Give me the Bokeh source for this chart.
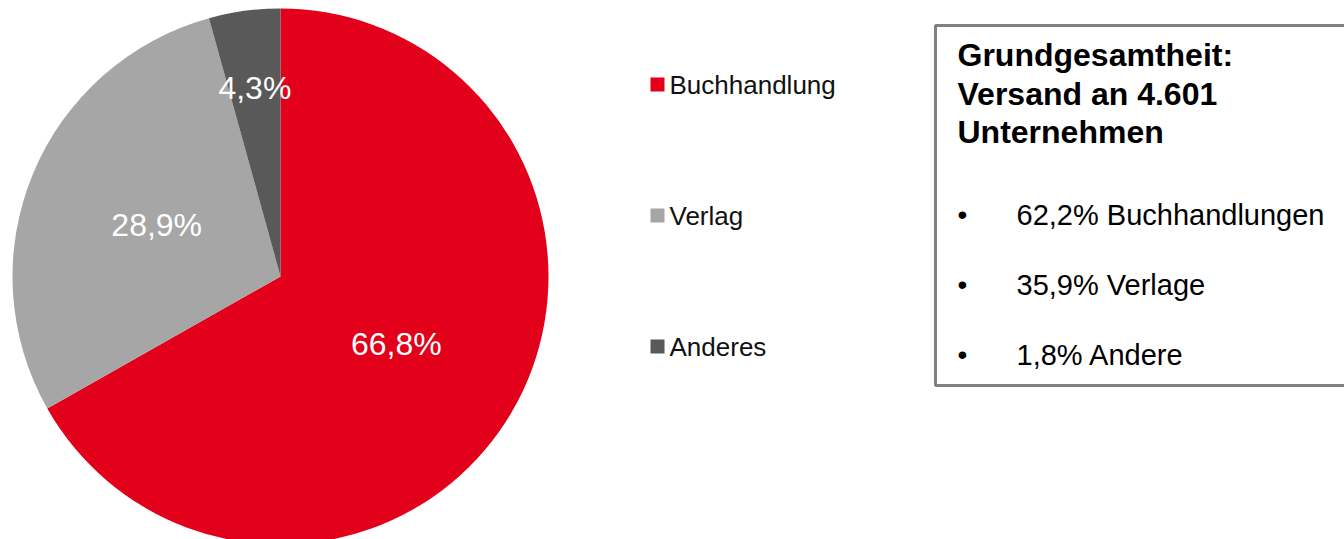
import math
from bokeh.plotting import figure
from bokeh.models import Range1d
from bokeh.core.properties import value
from bokeh.embed import file_html
from bokeh.resources import INLINE

# ---- data ----
categories = ["Buchhandlung", "Verlag", "Anderes"]
shares = [66.8, 28.9, 4.3]
labels = ["66,8%", "28,9%", "4,3%"]
colors = ["#E2001A", "#A6A6A6", "#595959"]
box_title = ["Grundgesamtheit:", "Versand an 4.601", "Unternehmen"]
box_items = ["62,2% Buchhandlungen", "35,9% Verlage", "1,8% Andere"]

W, H = 1344, 539
FONT = "Liberation Sans"


def py(page_y):
    # convert a page y (top-down) to data y (bottom-up)
    return H - page_y


p = figure(width=W, height=H, output_backend="svg", toolbar_location=None,
           x_range=Range1d(0, W), y_range=Range1d(0, H),
           x_axis_location=None, y_axis_location=None, min_border=0)
p.grid.visible = False
p.outline_line_color = None
p.background_fill_color = "white"
p.border_fill_color = "white"

# ---- pie ----
cx, cy, r = 280, py(276), 268
total = sum(shares)
starts, ends, mids = [], [], []
cum = 0.0
for v in shares:
    s = math.radians(90 - cum / total * 360)
    e = math.radians(90 - (cum + v) / total * 360)
    starts.append(s)
    ends.append(e)
    mids.append((s + e) / 2)
    cum += v

p.wedge(x=[cx] * 3, y=[cy] * 3, radius=r, start_angle=starts, end_angle=ends,
        direction="clock", fill_color=colors, line_color=None)

label_frac = [0.5, 0.5, 0.71]
lx = [cx + f * r * math.cos(m) for f, m in zip(label_frac, mids)]
ly = [cy + f * r * math.sin(m) for f, m in zip(label_frac, mids)]
p.text(x=lx, y=ly, text=labels, text_color="white", text_align="center",
       text_baseline="middle", text_font=value(FONT), text_font_size=value("32px"))

# ---- legend ----
leg_y = [py(84), py(215), py(346)]
p.rect(x=[657] * 3, y=leg_y, width=14, height=14, fill_color=colors, line_color=None)
p.text(x=[669] * 3, y=leg_y, text=categories, text_color="#111111", text_align="left",
       text_baseline="middle", text_font=value(FONT), text_font_size=value("26px"))

# ---- info box ----
p.quad(left=[935], right=[1350], top=[py(25)], bottom=[py(385)], fill_color=None,
       line_color="#808080", line_width=3)
p.text(x=[957] * 3, y=[py(54), py(93), py(131)], text=box_title, text_color="black",
       text_align="left", text_baseline="middle", text_font=value(FONT),
       text_font_size=value("32px"), text_font_style="bold")
item_y = [py(214), py(284), py(354)]
p.text(x=[962] * 3, y=item_y, text=["•"] * 3, text_color="black", text_align="center",
       text_baseline="middle", text_font=value(FONT), text_font_size=value("28px"))
p.text(x=[1016] * 3, y=item_y, text=box_items, text_color="black", text_align="left",
       text_baseline="middle", text_font=value(FONT), text_font_size=value("29px"))

open("out.html", "w").write(file_html(p, INLINE))
